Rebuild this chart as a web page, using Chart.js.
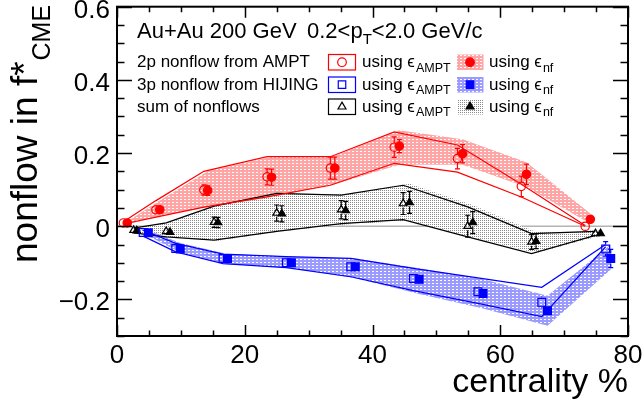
<!DOCTYPE html>
<html>
<head>
<meta charset="utf-8">
<script src="https://cdn.jsdelivr.net/npm/chart.js@4.4.1/dist/chart.umd.min.js"></script>
<style>
  html, body { margin: 0; padding: 0; background: #fff; }
  #wrap { width: 642px; height: 404px; }
</style>
</head>
<body>
<div id="wrap"><canvas id="chart" width="642" height="404"></canvas></div>
<script>
'use strict';

// --- data ---
// red: 2p nonflow from AMPT
const redAmptX   = [1.0, 6.1, 13.6, 23.5, 33.4, 43.4, 53.3, 63.3, 73.3];
const redAmptY   = [0.009, 0.045, 0.099, 0.135, 0.159, 0.216, 0.185, 0.109, 0.0];
const redAmptErr = [0.004, 0.01, 0.014, 0.022, 0.03, 0.028, 0.028, 0.028, 0.004];
const redAmptHi  = [0.012, 0.07, 0.15, 0.19, 0.19, 0.258, 0.222, 0.115, 0.002];
const redAmptLo  = [0.006, 0.025, 0.052, 0.08, 0.112, 0.172, 0.148, 0.08, 0.0];
const redNfX     = [1.6, 6.7, 14.2, 24.2, 34.1, 44.2, 54.1, 64.1, 74.1];
const redNfY     = [0.009, 0.045, 0.098, 0.134, 0.159, 0.219, 0.198, 0.142, 0.019];
const redNfErr   = [0.004, 0.01, 0.014, 0.022, 0.03, 0.018, 0.025, 0.028, 0.006];
const redNfHi    = [0.013, 0.07, 0.15, 0.19, 0.192, 0.262, 0.238, 0.175, 0.035];
const redNfLo    = [0.005, 0.028, 0.052, 0.08, 0.115, 0.168, 0.168, 0.107, 0.007];

// blue: 3p nonflow from HIJING
const bluAmptX   = [4.1, 9.2, 16.6, 26.5, 36.6, 46.4, 56.5, 66.5, 76.5];
const bluAmptY   = [-0.017, -0.061, -0.088, -0.1, -0.111, -0.143, -0.179, -0.208, -0.062];
const bluAmptErr = [0.003, 0.005, 0.005, 0.005, 0.005, 0.005, 0.006, 0.016, 0.02];
const bluAmptHi  = [-0.011, -0.047, -0.076, -0.083, -0.088, -0.115, -0.141, -0.167, -0.05];
const bluAmptLo  = [-0.027, -0.07, -0.102, -0.113, -0.138, -0.176, -0.211, -0.247, -0.056];
const bluNfX     = [4.9, 9.9, 17.3, 27.3, 37.3, 47.3, 57.3, 67.4, 77.3];
const bluNfY     = [-0.018, -0.062, -0.088, -0.1, -0.111, -0.145, -0.184, -0.231, -0.088];
const bluNfErr   = [0.003, 0.005, 0.005, 0.005, 0.005, 0.005, 0.006, 0.012, 0.025];
const bluNfHi    = [-0.01, -0.046, -0.076, -0.083, -0.088, -0.115, -0.145, -0.19, -0.05];
const bluNfLo    = [-0.027, -0.072, -0.103, -0.115, -0.142, -0.185, -0.225, -0.272, -0.118];

// black: sum of nonflows
const blkAmptX   = [2.6, 7.7, 15.2, 25.0, 35.1, 44.8, 54.9, 64.9, 74.9];
const blkAmptY   = [-0.011, -0.014, 0.011, 0.036, 0.045, 0.062, 0.0, -0.043, -0.02];
const blkAmptErr = [0.003, 0.01, 0.014, 0.022, 0.025, 0.03, 0.03, 0.02, 0.004];
const blkAmptHi  = [-0.005, 0.009, 0.055, 0.09, 0.085, 0.112, 0.053, -0.02, -0.014];
const blkAmptLo  = [-0.018, -0.029, -0.038, -0.014, 0.007, 0.018, -0.029, -0.075, -0.025];
const blkNfX     = [3.1, 8.3, 15.8, 25.8, 35.8, 45.8, 55.7, 65.6, 75.7];
const blkNfY     = [-0.012, -0.016, 0.01, 0.034, 0.043, 0.065, 0.01, -0.041, -0.02];
const blkNfErr   = [0.003, 0.01, 0.014, 0.022, 0.025, 0.03, 0.03, 0.02, 0.004];
const blkNfHi    = [-0.003, 0.011, 0.058, 0.092, 0.088, 0.116, 0.058, -0.016, -0.012];
const blkNfLo    = [-0.02, -0.03, -0.04, -0.014, 0.005, 0.016, -0.031, -0.073, -0.026];

const zeroLineX = [0, 80];
const xTicks = [0, 20, 40, 60, 80];
const yTicks = [-0.2, 0, 0.2, 0.4, 0.6];
const yTickLabels = ['\u22120.2', '0', '0.2', '0.4', '0.6'];
const legendRows = ['2p nonflow from AMPT', '3p nonflow from HIJING', 'sum of nonflows'];

const FONT = '"Liberation Sans", Arial, Helvetica, sans-serif';
const RED = '#ff0000', BLUE = '#0000ff', BLACK = '#000000';

// --- fill patterns (ROOT-like hatches) ---
function dashPattern(fg) {
    const c = document.createElement('canvas');
    c.width = 4; c.height = 3;
    const g = c.getContext('2d');
    g.fillStyle = fg; g.fillRect(0, 0, 4, 3);
    g.fillStyle = '#ffffff'; g.fillRect(0, 1, 2, 1);
    return g.createPattern(c, 'repeat');
}
function dotPattern() {
    const c = document.createElement('canvas');
    c.width = 2; c.height = 2;
    const g = c.getContext('2d');
    g.fillStyle = '#ffffff'; g.fillRect(0, 0, 2, 2);
    g.fillStyle = '#8a8a8a'; g.fillRect(0, 0, 1, 1);
    return g.createPattern(c, 'repeat');
}
const redPat = dashPattern('rgb(255,165,165)');
const bluPat = dashPattern('rgb(155,155,255)');
const blkPat = dotPattern();

const pts = (xs, ys) => xs.map((x, i) => ({ x: x, y: ys[i] }));

const datasets = [];
function addBand(xs, hi, lo, pattern) {
    const iHi = datasets.length;
    datasets.push({ data: pts(xs, hi), borderColor: 'rgba(0,0,0,0)', borderWidth: 1, pointRadius: 0, fill: false, order: 8 });
    datasets.push({ data: pts(xs, lo), borderColor: 'rgba(0,0,0,0)', borderWidth: 1, pointRadius: 0, fill: iHi, backgroundColor: pattern, order: 7 });
}
function addOutline(xs, hi, lo, color) {
    datasets.push({ data: pts(xs, hi), borderColor: color, borderWidth: 1.2, pointRadius: 0, fill: false, order: 4 });
    datasets.push({ data: pts(xs, lo), borderColor: color, borderWidth: 1.2, pointRadius: 0, fill: false, order: 4 });
}
function addMarkers(xs, ys, err, color, style, radius, open) {
    datasets.push({
        data: pts(xs, ys), err: err, showLine: false,
        pointStyle: style, pointRadius: radius,
        pointBackgroundColor: open ? 'rgba(0,0,0,0)' : color,
        pointBorderColor: color, pointBorderWidth: 1.2,
        order: 1
    });
}

// zero reference line
datasets.push({ data: pts(zeroLineX, [0, 0]), borderColor: '#b4b4b4', borderWidth: 1.5, pointRadius: 0, fill: false, order: 9 });

addBand(redNfX, redNfHi, redNfLo, redPat);
addBand(bluNfX, bluNfHi, bluNfLo, bluPat);
addBand(blkNfX, blkNfHi, blkNfLo, blkPat);
addOutline(redAmptX, redAmptHi, redAmptLo, RED);
addOutline(bluAmptX, bluAmptHi, bluAmptLo, BLUE);
addOutline(blkAmptX, blkAmptHi, blkAmptLo, BLACK);
addMarkers(redAmptX, redAmptY, redAmptErr, RED, 'circle', 4.2, true);
addMarkers(redNfX, redNfY, redNfErr, RED, 'circle', 4.2, false);
addMarkers(bluAmptX, bluAmptY, bluAmptErr, BLUE, 'rect', 5.5, true);
addMarkers(bluNfX, bluNfY, bluNfErr, BLUE, 'rect', 5.5, false);
addMarkers(blkAmptX, blkAmptY, blkAmptErr, BLACK, 'triangle', 4.4, true);
addMarkers(blkNfX, blkNfY, blkNfErr, BLACK, 'triangle', 4.4, false);

// --- error bars with small caps ---
const errorBars = {
    id: 'errorBars',
    afterDatasetsDraw(chart) {
        const ctx = chart.ctx, ys = chart.scales.y;
        ctx.save();
        ctx.lineWidth = 1.2;
        chart.data.datasets.forEach((ds, i) => {
            if (!ds.err) return;
            const meta = chart.getDatasetMeta(i);
            ctx.strokeStyle = ds.pointBorderColor;
            meta.data.forEach((el, j) => {
                const v = ds.data[j].y, e = ds.err[j];
                const top = ys.getPixelForValue(v + e), bot = ys.getPixelForValue(v - e);
                const gap = ds.pointRadius - 0.5;
                ctx.beginPath();
                if (el.y - top > gap) { ctx.moveTo(el.x, top); ctx.lineTo(el.x, el.y - gap); }
                if (bot - el.y > gap) { ctx.moveTo(el.x, el.y + gap); ctx.lineTo(el.x, bot); }
                if (el.y - top > gap + 1) {
                    ctx.moveTo(el.x - 2.5, top); ctx.lineTo(el.x + 2.5, top);
                    ctx.moveTo(el.x - 2.5, bot); ctx.lineTo(el.x + 2.5, bot);
                }
                ctx.stroke();
            });
        });
        ctx.restore();
    }
};

// --- frame, inside ticks, labels, legend ---
function marker(ctx, style, r, x, y, color, open) {
    ctx.fillStyle = open ? 'rgba(0,0,0,0)' : color;
    ctx.strokeStyle = color;
    Chart.helpers.drawPoint(ctx, { pointStyle: style, radius: r, borderWidth: 1.2, rotation: 0 }, x, y);
}

const rootFrame = {
    id: 'rootFrame',
    afterDraw(chart) {
        const ctx = chart.ctx, a = chart.chartArea;
        const xs = chart.scales.x, ys = chart.scales.y;
        ctx.save();
        ctx.strokeStyle = '#000';
        ctx.lineWidth = 2;
        ctx.strokeRect(a.left, a.top, a.right - a.left, a.bottom - a.top);

        ctx.lineWidth = 1.5;
        ctx.beginPath();
        for (let v = xs.min; v <= xs.max + 1e-9; v += 5) {
            const px = Math.round(xs.getPixelForValue(v)) + 0.5;
            const len = xTicks.includes(v) ? 11 : 5.5;
            ctx.moveTo(px, a.bottom); ctx.lineTo(px, a.bottom - len);
            ctx.moveTo(px, a.top); ctx.lineTo(px, a.top + len);
        }
        for (let k = 0; k <= 18; k++) {
            const v = ys.min + k * 0.05;
            const py = Math.round(ys.getPixelForValue(v)) + 0.5;
            const major = yTicks.some(t => Math.abs(t - v) < 1e-6);
            const len = major ? 15 : 7.5;
            ctx.moveTo(a.left, py); ctx.lineTo(a.left + len, py);
            ctx.moveTo(a.right, py); ctx.lineTo(a.right - len, py);
        }
        ctx.stroke();

        ctx.fillStyle = '#000';
        ctx.font = '26px ' + FONT;
        ctx.textAlign = 'right';
        ctx.textBaseline = 'alphabetic';
        yTicks.forEach((t, i) => ctx.fillText(yTickLabels[i], 110, ys.getPixelForValue(t) + 11));
        ctx.textAlign = 'center';
        xTicks.forEach(t => ctx.fillText(String(t), xs.getPixelForValue(t), 363));

        // axis titles
        ctx.textAlign = 'right';
        ctx.font = '34px ' + FONT;
        ctx.fillText('centrality %', a.right, 392);

        ctx.save();
        ctx.translate(37, 263);
        ctx.rotate(-Math.PI / 2);
        ctx.textAlign = 'left';
        ctx.font = '37px ' + FONT;
        ctx.fillText('nonflow in f*', 0, 0);
        const w = ctx.measureText('nonflow in f*').width;
        ctx.font = '25px ' + FONT;
        ctx.fillText('CME', w + 1, 13);
        ctx.restore();

        // header
        ctx.textAlign = 'left';
        ctx.font = '22px ' + FONT;
        ctx.fillText('Au+Au 200 GeV', 137, 38);
        ctx.fillText('0.2<p', 307, 38);
        let hx = 307 + ctx.measureText('0.2<p').width;
        ctx.font = '15px ' + FONT;
        ctx.fillText('T', hx, 44);
        hx += ctx.measureText('T').width;
        ctx.font = '22px ' + FONT;
        ctx.fillText('<2.0 GeV/c', hx, 38);

        // legend
        const colors = [RED, BLUE, BLACK];
        const styles = [['circle', 4.3], ['rect', 5.3], ['triangle', 4.6]];
        const pats = [redPat, bluPat, blkPat];
        const rowBase = [67, 89.5, 111.5];
        legendRows.forEach((label, i) => {
            const b = rowBase[i];
            ctx.fillStyle = '#000';
            ctx.font = '17px ' + FONT;
            ctx.fillText(label, 137, b);
            // open-marker entry: outlined box
            ctx.lineWidth = 1.2;
            ctx.strokeStyle = colors[i];
            ctx.strokeRect(328.5, b - 12.5, 27, 15.5);
            marker(ctx, styles[i][0], styles[i][1], 342, b - 4.8, colors[i], true);
            // filled-marker entry: hatched box
            ctx.fillStyle = pats[i];
            ctx.fillRect(457, b - 12.5, 26.5, 15.5);
            marker(ctx, styles[i][0], styles[i][1], 470, b - 4.8, colors[i], false);

            ctx.fillStyle = '#000';
            [[362, 'AMPT'], [489, 'nf']].forEach(([tx, sub]) => {
                ctx.font = '17px ' + FONT;
                ctx.fillText('using \u03f5', tx, b);
                const sw = ctx.measureText('using \u03f5').width;
                ctx.font = '12.5px ' + FONT;
                ctx.fillText(sub, tx + sw + 1, b + 4.5);
            });
        });
        ctx.restore();
    }
};

new Chart(document.getElementById('chart'), {
    type: 'line',
    data: { datasets: datasets },
    options: {
        responsive: false,
        devicePixelRatio: 1,
        animation: false,
        layout: { padding: { left: 117, right: 14, top: 6, bottom: 68 } },
        plugins: { legend: { display: false }, tooltip: { enabled: false } },
        elements: { line: { tension: 0 } },
        scales: {
            x: { type: 'linear', min: 0, max: 80, display: false },
            y: { type: 'linear', min: -0.3, max: 0.6, display: false }
        }
    },
    plugins: [errorBars, rootFrame]
});
</script>
</body>
</html>
